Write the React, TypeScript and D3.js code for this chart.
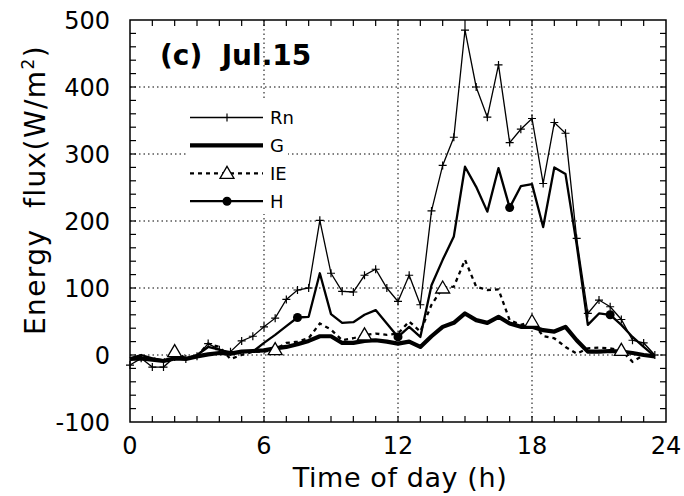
import React from "react";
import * as d3 from "d3";

const hours = [0, 0.5, 1, 1.5, 2, 2.5, 3, 3.5, 4, 4.5, 5, 5.5, 6, 6.5, 7, 7.5, 8, 8.5, 9, 9.5, 10, 10.5, 11, 11.5,
  12, 12.5, 13, 13.5, 14, 14.5, 15, 15.5, 16, 16.5, 17, 17.5, 18, 18.5, 19, 19.5, 20, 20.5, 21, 21.5, 22, 22.5, 23, 23.5];

const Rn = [-15, -5, -18, -18, -3, -6, -2, 17, 8, 5, 21, 28, 42, 55, 83, 97, 100, 201, 122, 95, 94, 119, 128, 100,
  80, 119, 75, 215, 283, 325, 485, 400, 355, 433, 317, 337, 353, 256, 347, 331, 174, 62, 82, 72, 53, 22, 18, 0];
const G = [-6, -5, -7, -9, -5, -6, -2, 1, 3, 2, 5, 6, 7, 10, 12, 16, 21, 28, 28, 18, 18, 21, 22, 20,
  17, 20, 12, 28, 42, 48, 62, 52, 48, 57, 47, 42, 42, 37, 35, 42, 22, 5, 5, 6, 5, 3, 0, -2];
const IE = [-5, -3, -5, -8, 5, -5, -2, 17, 12, -6, 0, 5, 5, 8, 18, 20, 25, 47, 38, 22, 25, 30, 32, 30,
  32, 50, 35, 75, 100, 102, 142, 102, 97, 98, 52, 45, 50, 28, 25, 12, 2, 10, 11, 10, 7, -10, 0, -1];
const H = [-5, 0, -5, -8, -5, -5, 0, 12, 8, 2, 5, 5, 18, 30, 43, 56, 57, 122, 61, 48, 49, 60, 67, 47,
  27, 42, 27, 104, 142, 177, 281, 251, 214, 279, 220, 252, 255, 191, 280, 270, 165, 45, 62, 60, 45, 27, 12, -2];

const hMarkerHours = [7.5, 12, 17, 21.5];
const ieMarkerHours = [2, 6.5, 10.5, 14, 18, 22];

const xTicks = [0, 6, 12, 18, 24];
const yTicks = [-100, 0, 100, 200, 300, 400, 500];

const W = 684, HGT = 496;
const FONT = "DejaVu Sans, sans-serif";

export default function App() {
  const x = d3.scaleLinear().domain([0, 24]).range([130, 666]);
  const y = d3.scaleLinear().domain([-100, 500]).range([422, 20]);
  const line = (vals: number[]) =>
    d3.line<number>().x((_, i) => x(hours[i])).y((d) => y(d))(vals) || "";

  const minorX = d3.range(1, 24, 1);
  const minorY = d3.range(-80, 500, 20);
  const tl = 6;
  const [x0, x1] = x.range();
  const [y0, y1] = y.range();

  const legendRows = [
    { label: "Rn", kind: "Rn" },
    { label: "G", kind: "G" },
    { label: "IE", kind: "IE" },
    { label: "H", kind: "H" },
  ];
  const lgX0 = 190, lgX1 = 263, lgMid = 227, lgY0 = 117.5, lgDy = 27.9;

  const tri = (cx: number, cy: number) =>
    `M${cx},${cy - 7} L${cx + 7},${cy + 5} L${cx - 7},${cy + 5} Z`;

  return (
    <svg width={W} height={HGT} style={{ position: "absolute", left: 0, top: 0, background: "#fff" }}
      fontFamily={FONT}>
      <rect x={0} y={0} width={W} height={HGT} fill="#fff" />
      {/* gridlines */}
      {[6, 12, 18].map((t) => (
        <line key={"gx" + t} x1={x(t)} x2={x(t)} y1={y1} y2={y0} stroke="#000" strokeWidth={1}
          strokeDasharray="1.5,3" />
      ))}
      {[0, 100, 200, 300, 400].map((t) => (
        <line key={"gy" + t} x1={x0} x2={x1} y1={y(t)} y2={y(t)} stroke="#000" strokeWidth={1}
          strokeDasharray="1.5,3" />
      ))}
      {/* legend background */}
      <rect x={187} y={100} width={101} height={114} fill="#fff" />

      {/* series */}
      <path d={line(G)} fill="none" stroke="#000" strokeWidth={4.2} strokeLinejoin="round" />
      <path d={line(IE)} fill="none" stroke="#000" strokeWidth={2.3} strokeDasharray="4,4" />
      <path d={line(H)} fill="none" stroke="#000" strokeWidth={2.3} strokeLinejoin="round" />
      <path d={line(Rn)} fill="none" stroke="#000" strokeWidth={1.3} />
      {Rn.map((v, i) => (
        <path key={"rn" + i} d={`M${x(hours[i]) - 4},${y(v)}h8M${x(hours[i])},${y(v) - 4}v8`}
          stroke="#000" strokeWidth={1.2} />
      ))}
      {hMarkerHours.map((h) => {
        const i = hours.indexOf(h);
        return <circle key={"hm" + h} cx={x(h)} cy={y(H[i])} r={4.5} fill="#000" />;
      })}
      {ieMarkerHours.map((h) => {
        const i = hours.indexOf(h);
        return <path key={"im" + h} d={tri(x(h), y(IE[i]))} fill="#fff" stroke="#000" strokeWidth={1.3} />;
      })}

      {/* frame */}
      <rect x={x0} y={y1} width={x1 - x0} height={y0 - y1} fill="none" stroke="#000" strokeWidth={1.5} />
      {minorX.map((t) => (
        <g key={"tx" + t}>
          <line x1={x(t)} x2={x(t)} y1={y0} y2={y0 - tl} stroke="#000" strokeWidth={1.2} />
          <line x1={x(t)} x2={x(t)} y1={y1} y2={y1 + tl} stroke="#000" strokeWidth={1.2} />
        </g>
      ))}
      {minorY.map((t) => (
        <g key={"ty" + t}>
          <line x1={x0} x2={x0 + tl} y1={y(t)} y2={y(t)} stroke="#000" strokeWidth={1.2} />
          <line x1={x1} x2={x1 - tl} y1={y(t)} y2={y(t)} stroke="#000" strokeWidth={1.2} />
        </g>
      ))}

      {/* tick labels */}
      {xTicks.map((t) => (
        <text key={"xl" + t} x={x(t)} y={454} textAnchor="middle" fontSize={24}>{t}</text>
      ))}
      {yTicks.map((t) => (
        <text key={"yl" + t} x={110} y={y(t) + 8.5} textAnchor="end" fontSize={24}>{t}</text>
      ))}

      {/* axis titles */}
      <text x={400} y={487} textAnchor="middle" fontSize={27} letterSpacing={0.6}>Time of day (h)</text>
      <text transform="translate(45,190) rotate(-90)" textAnchor="middle" fontSize={28}
        letterSpacing={1.4} style={{ whiteSpace: "pre" }}>
        {"Energy  flux(W/m"}<tspan dy={-11} fontSize={17}>2</tspan><tspan dy={11}>)</tspan>
      </text>

      {/* panel title */}
      <text x={160} y={65} fontSize={28} fontWeight="bold" style={{ whiteSpace: "pre" }}>{"(c)  Jul.15"}</text>

      {/* legend */}
      {legendRows.map((r, k) => {
        const ly = lgY0 + k * lgDy;
        return (
          <g key={r.label}>
            {r.kind === "Rn" && (
              <>
                <line x1={lgX0} x2={lgX1} y1={ly} y2={ly} stroke="#000" strokeWidth={1.3} />
                <path d={`M${lgMid},${ly - 4}v8`} stroke="#000" strokeWidth={1.2} />
              </>
            )}
            {r.kind === "G" && <line x1={lgX0} x2={lgX1} y1={ly} y2={ly} stroke="#000" strokeWidth={4.2} />}
            {r.kind === "IE" && (
              <>
                <line x1={lgX0} x2={lgX1} y1={ly} y2={ly} stroke="#000" strokeWidth={2.3} strokeDasharray="4,4" />
                <path d={tri(lgMid, ly)} fill="#fff" stroke="#000" strokeWidth={1.3} />
              </>
            )}
            {r.kind === "H" && (
              <>
                <line x1={lgX0} x2={lgX1} y1={ly} y2={ly} stroke="#000" strokeWidth={2.3} />
                <circle cx={lgMid} cy={ly} r={4.5} fill="#000" />
              </>
            )}
            <text x={270} y={ly + 6.5} fontSize={18}>{r.label}</text>
          </g>
        );
      })}
    </svg>
  );
}
